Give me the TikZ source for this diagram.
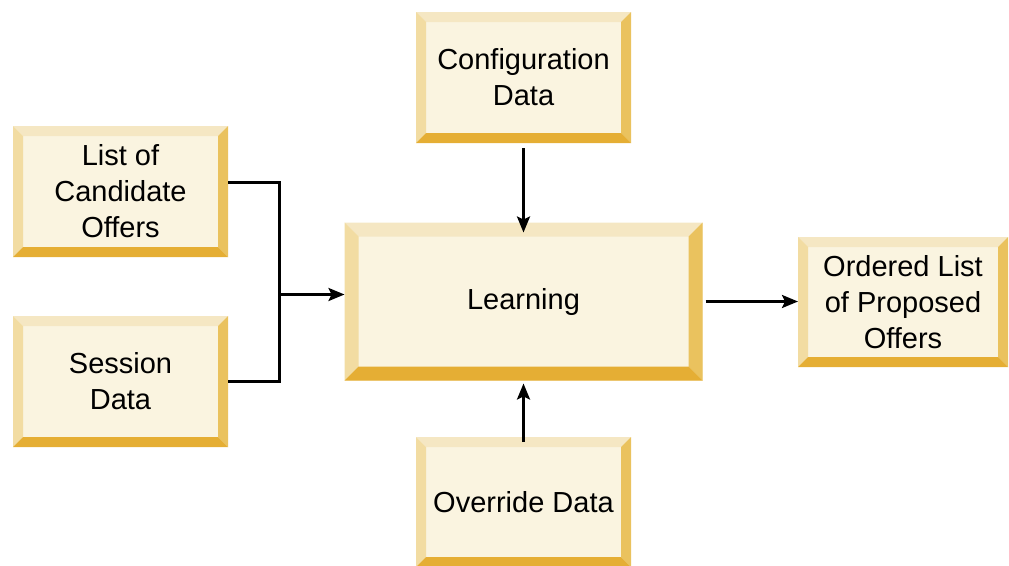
\documentclass[tikz,border=0pt]{standalone}
\usepackage{fontspec}
\setmainfont{Liberation Sans}
\usetikzlibrary{arrows.meta}

\definecolor{boxfill}{HTML}{FAF4E0}
\definecolor{beveltop}{HTML}{F5E7C3}
\definecolor{bevelleft}{HTML}{F2DCA2}
\definecolor{bevelright}{HTML}{EAC25E}
\definecolor{bevelbottom}{HTML}{E5AE34}

\tikzset{
  bevelbox/.style={
    fill=boxfill, inner sep=0pt, outer sep=0pt, align=center,
    font=\fontsize{29}{36}\selectfont,
    path picture={
      \path (path picture bounding box.north west) coordinate (nw)
            (path picture bounding box.north east) coordinate (ne)
            (path picture bounding box.south west) coordinate (sw)
            (path picture bounding box.south east) coordinate (se);
      \fill[beveltop] (nw) -- (ne) -- ([shift={(-#1,-#1)}]ne) -- ([shift={(#1,-#1)}]nw) -- cycle;
      \fill[bevelleft] (nw) -- ([shift={(#1,-#1)}]nw) -- ([shift={(#1,#1)}]sw) -- (sw) -- cycle;
      \fill[bevelright] (ne) -- (se) -- ([shift={(-#1,#1)}]se) -- ([shift={(-#1,-#1)}]ne) -- cycle;
      \fill[bevelbottom] (sw) -- (se) -- ([shift={(-#1,#1)}]se) -- ([shift={(#1,#1)}]sw) -- cycle;
    }
  },
  bevelbox/.default=10pt,
  link/.style={line width=2.6pt},
  flow/.style={link, -{Stealth[length=16pt,width=13pt,inset=3pt]}}
}

\begin{document}
\begin{tikzpicture}[x=1pt, y=-1pt]

    \useasboundingbox (0,0) rectangle (1009,565);

    \node[bevelbox, minimum width=215pt, minimum height=131pt] (conf) at (523.5,77.5) {Configuration\\Data};
    \node[bevelbox, minimum width=215pt, minimum height=131pt] (cand) at (120.5,191.5) {List of\\Candidate\\Offers};
    \node[bevelbox, minimum width=215pt, minimum height=131pt] (sess) at (120.5,381.5) {Session\\Data};
    \node[bevelbox=14pt, minimum width=358pt, minimum height=158pt] (learn) at (523.5,301.5) {Learning};
    \node[bevelbox, minimum width=215pt, minimum height=130pt] (over) at (523.5,502) {Override Data};
    \node[bevelbox, minimum width=210pt, minimum height=130pt] (ord) at (903,302) {Ordered List\\of Proposed\\Offers};

    \coordinate (join) at (279.5,294.5);

    \draw[link] ([yshift=9pt]cand.east) -| (join);
    \draw[link] (sess.east) -| (join);
    \draw[flow] (join) -- (join -| learn.west);

    \draw[flow] ([yshift=-5pt]conf.south) -- ([yshift=-10pt]learn.north);
    \draw[flow] ([yshift=-5pt]over.north) -- ([yshift=-3pt]learn.south);

    \draw[flow] ([xshift=3pt]learn.east) -- (ord.west |- learn.east);

\end{tikzpicture}
\end{document}
